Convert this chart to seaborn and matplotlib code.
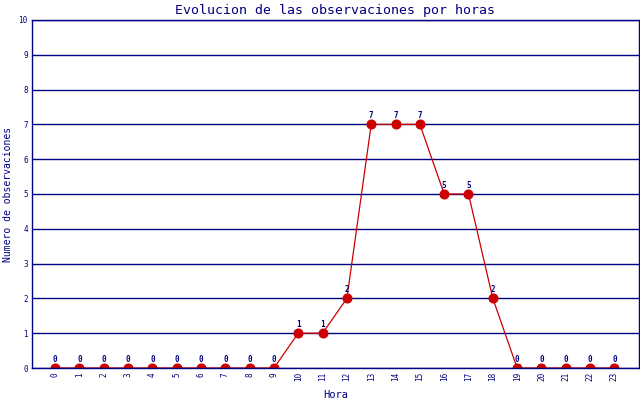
import matplotlib
matplotlib.use("Agg")
import matplotlib.pyplot as plt
import seaborn as sns

# === Data ===
horas = list(range(24))
observaciones = [0, 0, 0, 0, 0, 0, 0, 0, 0, 0, 1, 1, 2, 7, 7, 7, 5, 5, 2, 0, 0, 0, 0, 0]

NAVY = "#000080"
RED = "#cc0000"

sns.set_style("white")
plt.rcParams['font.family'] = ['DejaVu Sans Mono']

fig = plt.figure(figsize=(6.4, 4.0), dpi=100)
ax = fig.add_axes([0.05, 0.08, 0.948, 0.87])

sns.lineplot(x=horas, y=observaciones, ax=ax, color=RED, linewidth=0.9,
             marker="o", markersize=6.5, markeredgecolor=RED, markerfacecolor=RED)

for h, v in zip(horas, observaciones):
    ax.text(h, v + 0.12, str(v), ha="center", va="bottom", fontsize=5.5,
            color=NAVY, fontweight="bold")

ax.set_xlim(-0.95, 24)
ax.set_ylim(0, 10)
ax.set_xticks(horas)
ax.set_xticklabels([str(h) for h in horas], rotation=90, fontsize=5.5, color=NAVY)
ax.set_yticks(range(11))
ax.set_yticklabels([str(i) for i in range(11)], fontsize=5.5, color=NAVY)
ax.tick_params(axis="both", length=0, pad=3)
ax.yaxis.grid(True, color=NAVY, linewidth=1.0)
ax.set_axisbelow(True)
for s in ax.spines.values():
    s.set_color(NAVY)
    s.set_linewidth(1.0)

ax.set_title("Evolucion de las observaciones por horas", color=NAVY, fontsize=9.5, pad=4)
ax.set_xlabel("Hora", color=NAVY, fontsize=7.5, labelpad=6)
ax.set_ylabel("Numero de observaciones", color=NAVY, fontsize=7, labelpad=4)

fig.savefig("out.png", dpi=100)
